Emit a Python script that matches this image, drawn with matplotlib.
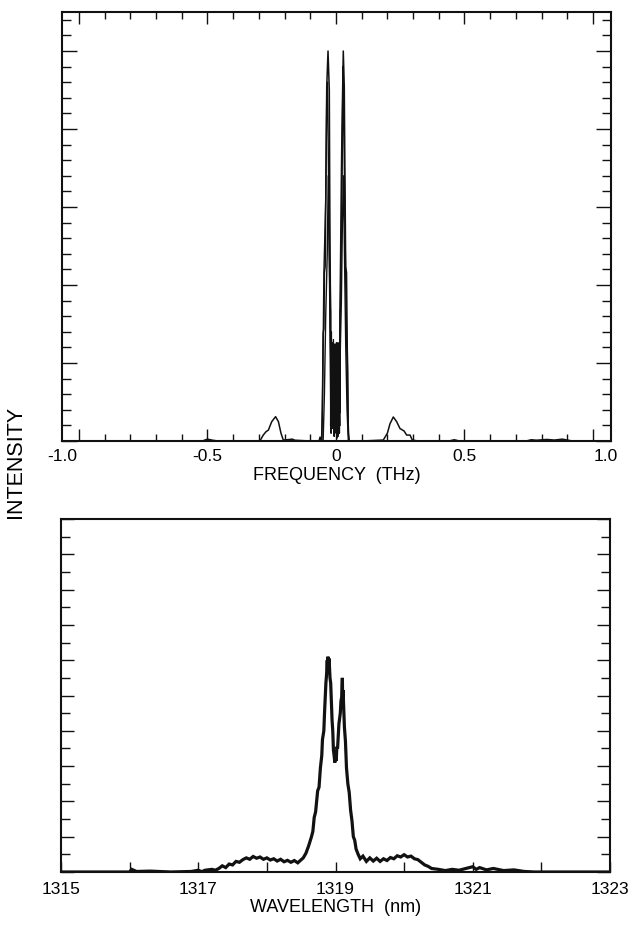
import numpy as np
import matplotlib
matplotlib.use("Agg")
import matplotlib.pyplot as plt
from matplotlib.ticker import MultipleLocator, FixedLocator, FixedFormatter
from matplotlib.transforms import ScaledTranslation

plt.rcParams['font.family'] = ['Liberation Sans', 'DejaVu Sans']

# ---------------- data: top panel (frequency spectrum) ----------------
# main trace over full range (THz, intensity in minor-tick units)
freq_main = [-1.066, -0.60, -0.52, -0.50, -0.48, -0.46, -0.35, -0.296, -0.283, -0.272,
             -0.263, -0.25, -0.235, -0.224, -0.214, -0.205, -0.18, -0.17, -0.16, -0.10,
             -0.066, -0.062, -0.058,
             -0.056, -0.053, -0.050, -0.047, -0.045, -0.042, -0.039, -0.036, -0.031,
             -0.026, -0.024, -0.022, -0.0205, -0.019, -0.017, -0.015, -0.013, -0.011,
             -0.009, -0.007, -0.005, -0.003, -0.001, 0.001, 0.003, 0.005, 0.007, 0.009,
             0.011, 0.013, 0.0156, 0.018, 0.021, 0.0233, 0.0284, 0.0323, 0.035, 0.0377,
             0.041, 0.044, 0.046, 0.048, 0.052,
             0.10, 0.184, 0.20, 0.21, 0.223, 0.236, 0.249, 0.265, 0.275, 0.288, 0.297,
             0.32, 0.44, 0.46, 0.48, 0.60, 0.74, 0.76, 0.78, 0.82, 0.85, 0.88, 0.92, 1.07]
int_main = [0.0, 0.0, 0.0, 0.12, 0.05, 0.0, 0.0, 0.0, 0.38, 0.60,
            0.70, 1.24, 1.56, 1.24, 0.50, 0.06, 0.10, 0.12, 0.05, 0.0,
            0.0, 0.25, 0.0,
            0.1, 2.0, 6.9, 7.2, 10.8, 11.2, 17.2, 22.7, 25.0,
            22.5, 15.0, 10.0, 8.4, 0.5, 6.0, 1.0, 6.2, 2.0,
            6.0, 0.3, 5.8, 2.5, 6.2, 1.0, 6.0, 0.2, 5.9, 2.0,
            6.1, 0.5, 8.4, 12.0, 17.0, 20.0, 25.0, 22.7, 16.7, 11.2,
            10.8, 5.8, 4.4, 0.5, 0.0,
            0.0, 0.06, 0.50, 1.10, 1.54, 1.24, 0.80, 0.64, 0.38, 0.38, 0.06,
            0.0, 0.0, 0.08, 0.0, 0.0, 0.0, 0.08, 0.05, 0.10, 0.06, 0.12, 0.0, 0.0]

# second overlapping trace in the centre
freq_b = [-0.060, -0.055, -0.051, -0.047, -0.040, -0.036, -0.033, -0.029, -0.025, -0.022,
          -0.020, -0.018, -0.016, -0.014, -0.012, -0.010, -0.008, -0.006, -0.004, -0.002,
          0.000, 0.002, 0.004, 0.006, 0.008, 0.010, 0.012, 0.014, 0.017, 0.020, 0.024,
          0.027, 0.030, 0.034, 0.038, 0.042, 0.046, 0.050, 0.055]
int_b = [0.0, 0.0, 4.4, 10.8, 15.4, 22.0, 23.0, 17.0, 10.0, 5.0,
         1.0, 7.0, 3.0, 5.5, 0.8, 4.5, 3.0, 6.0, 0.5, 5.0,
         3.0, 6.3, 1.5, 4.0, 0.3, 5.5, 2.5, 3.0, 8.0, 12.0, 17.0,
         24.0, 21.0, 15.4, 10.0, 6.0, 2.0, 0.0, 0.0]

# third, lower trace in the centre
freq_c = [-0.050, -0.045, -0.040, -0.034, -0.030, -0.026, -0.022, -0.019, -0.016, -0.013,
          -0.010, -0.007, -0.004, -0.001, 0.002, 0.005, 0.008, 0.011, 0.014, 0.017,
          0.021, 0.025, 0.029, 0.033, 0.038, 0.043, 0.048]
int_c = [0.0, 3.0, 8.0, 12.0, 17.0, 12.0, 7.0, 3.5, 5.0, 2.0,
         6.5, 1.0, 4.8, 0.8, 6.0, 2.5, 5.0, 1.0, 4.0, 6.0,
         9.0, 14.0, 17.0, 12.0, 6.0, 2.0, 0.0]

# dense oscillation between the two spikes (the dark block)
freq_d = [-0.0215, -0.0205, -0.0195, -0.0185, -0.0175, -0.0165, -0.0155, -0.0145, -0.0135,
          -0.0125, -0.0115, -0.0105, -0.0095, -0.0085, -0.0075, -0.0065, -0.0055, -0.0045,
          -0.0035, -0.0025, -0.0015, -0.0005, 0.0005, 0.0015, 0.0025, 0.0035, 0.0045,
          0.0055, 0.0065, 0.0075, 0.0085, 0.0095, 0.0105, 0.0115, 0.0125, 0.0135, 0.0145,
          0.0155, 0.0165]
int_d = [8.4, 1.5, 6.2, 2.0, 6.0, 1.2, 6.3, 2.2, 5.9, 1.6,
         6.1, 2.4, 6.2, 1.0, 5.8, 2.0, 6.0, 1.4, 6.2, 2.3,
         5.9, 1.5, 6.1, 2.1, 6.0, 1.2, 6.2, 2.0, 5.8, 1.6,
         6.1, 2.4, 6.0, 1.3, 6.2, 2.0, 5.9, 1.8, 8.4]
freq_e = [-0.0210, -0.0200, -0.0190, -0.0180, -0.0170, -0.0160, -0.0150, -0.0140, -0.0130,
          -0.0120, -0.0110, -0.0100, -0.0090, -0.0080, -0.0070, -0.0060, -0.0050, -0.0040,
          -0.0030, -0.0020, -0.0010, 0.0000, 0.0010, 0.0020, 0.0030, 0.0040, 0.0050,
          0.0060, 0.0070, 0.0080, 0.0090, 0.0100, 0.0110, 0.0120, 0.0130, 0.0140, 0.0150,
          0.0160]
int_e = [1.0, 6.0, 1.8, 6.2, 2.5, 5.9, 1.0, 6.1, 2.0, 6.3,
         1.5, 5.8, 2.2, 6.0, 0.8, 6.2, 2.4, 5.9, 1.2, 6.1,
         2.0, 6.0, 1.6, 6.2, 2.3, 5.8, 1.0, 6.1, 2.0, 6.3,
         1.4, 5.9, 2.2, 6.0, 1.1, 6.2, 2.0, 1.0]

freq_ticklabels = ["-1.0", "-0.5", "0", "0.5", "1.0"]
freq_major = [-1.0, -0.5, 0.0, 0.5, 1.0]

# ---------------- data: bottom panel (wavelength spectrum) ----------------
wavelength = [1315.00, 1315.50, 1316.00, 1316.03, 1316.10, 1316.30, 1316.60, 1316.90, 1317.00, 1317.05,
              1317.10, 1317.20, 1317.25, 1317.30, 1317.35, 1317.40, 1317.45, 1317.50, 1317.55, 1317.60,
              1317.65, 1317.70, 1317.75, 1317.80, 1317.85, 1317.90, 1317.95, 1318.00, 1318.05, 1318.10,
              1318.15, 1318.20, 1318.25, 1318.30, 1318.35, 1318.40, 1318.45, 1318.50, 1318.53, 1318.57,
              1318.61, 1318.65, 1318.67, 1318.69, 1318.71, 1318.74, 1318.76, 1318.78, 1318.80, 1318.81,
              1318.83, 1318.84, 1318.85, 1318.86, 1318.87, 1318.88, 1318.885, 1318.89, 1318.90, 1318.905,
              1318.91, 1318.92, 1318.93, 1318.94, 1318.95, 1318.96, 1318.97, 1318.98, 1318.99, 1319.00,
              1319.01, 1319.02, 1319.03, 1319.05, 1319.07, 1319.08, 1319.09, 1319.10, 1319.105, 1319.11,
              1319.12, 1319.13, 1319.145, 1319.16, 1319.18, 1319.20, 1319.22, 1319.24, 1319.26, 1319.28,
              1319.30, 1319.33, 1319.36, 1319.40, 1319.45, 1319.50, 1319.55, 1319.60, 1319.65, 1319.70,
              1319.75, 1319.80, 1319.85, 1319.90, 1319.95, 1320.00, 1320.05, 1320.10, 1320.15, 1320.20,
              1320.25, 1320.30, 1320.35, 1320.40, 1320.50, 1320.60, 1320.70, 1320.80, 1320.90, 1321.00,
              1321.05, 1321.10, 1321.20, 1321.30, 1321.45, 1321.60, 1321.75, 1321.90, 1322.50, 1323.00]
intensity = [0.0, 0.0, 0.0, 0.15, 0.03, 0.05, 0.0, 0.03, 0.1, 0.02,
             0.1, 0.15, 0.1, 0.2, 0.35, 0.25, 0.45, 0.40, 0.60, 0.55,
             0.70, 0.80, 0.72, 0.88, 0.78, 0.85, 0.72, 0.80, 0.68, 0.75,
             0.62, 0.72, 0.58, 0.66, 0.55, 0.65, 0.52, 0.70, 0.80, 1.07,
             1.5, 2.0, 2.3, 3.1, 3.4, 4.6, 4.8, 5.9, 6.6, 7.5,
             8.0, 9.0, 9.8, 10.7, 11.2, 12.0, 11.4, 12.2, 11.6, 12.1,
             11.8, 11.0, 10.7, 9.6, 8.6, 8.0, 6.9, 6.6, 6.2, 6.5,
             6.3, 7.1, 7.0, 8.4, 9.0, 9.7, 9.9, 11.0, 9.5, 10.3,
             9.3, 8.2, 7.4, 5.9, 5.0, 4.5, 3.5, 2.9, 2.0, 1.8,
             1.3, 1.0, 0.75, 0.9, 0.6, 0.8, 0.62, 0.78, 0.6, 0.75,
             0.65, 0.82, 0.75, 0.92, 0.85, 0.98, 0.85, 0.90, 0.75, 0.70,
             0.55, 0.40, 0.32, 0.20, 0.15, 0.08, 0.15, 0.10, 0.20, 0.30,
             0.15, 0.25, 0.12, 0.20, 0.08, 0.12, 0.03, 0.0, 0.0, 0.0]

wl_ticks = [1316, 1317, 1318, 1319, 1320, 1321, 1322]
wl_labels = ["1315", "1317", "1319", "1321", "1323"]
wl_label_pos = [1315, 1317, 1319, 1321, 1323]

# ---------------- figure ----------------
fig = plt.figure(figsize=(6.32, 9.25), dpi=100)
W, H = 632, 925
ax1 = fig.add_axes([62 / W, 1 - 441 / H, (611 - 62) / W, (441 - 12) / H])
ax2 = fig.add_axes([61 / W, 1 - 872 / H, (610 - 61) / W, (872 - 519) / H])

lc = "#111111"
ax1.plot(freq_main, int_main, color=lc, lw=1.1)
ax1.plot(freq_b, int_b, color=lc, lw=1.0)
ax1.plot(freq_c, int_c, color=lc, lw=1.0)
ax1.plot(freq_d, int_d, color=lc, lw=1.0)
ax1.plot(freq_e, int_e, color=lc, lw=1.0)
ax1.set_xlim(-1.066, 1.07)
ax1.set_ylim(0, 27.5)

ax2.plot(wavelength, intensity, color=lc, lw=2.3, solid_joinstyle='miter')
ax2.set_xlim(1315, 1323)
ax2.set_ylim(0, 20)

for ax in (ax1, ax2):
    for s in ax.spines.values():
        s.set_linewidth(1.5)
        s.set_color(lc)

# top panel ticks
ax1.xaxis.set_major_locator(FixedLocator(freq_major))
ax1.xaxis.set_major_formatter(FixedFormatter(freq_ticklabels))
ax1.xaxis.set_minor_locator(MultipleLocator(0.1))
ax1.yaxis.set_major_locator(MultipleLocator(5))
ax1.yaxis.set_minor_locator(MultipleLocator(1))
ax1.set_yticklabels([])
ax1.tick_params(axis='x', which='major', direction='in', length=8.5, width=1.0,
                top=True, bottom=True, labelsize=12.5, pad=6, color=lc)
ax1.tick_params(axis='x', which='minor', direction='in', length=5, width=1.0,
                top=True, bottom=True, color=lc)
ax1.tick_params(axis='y', which='major', direction='in', length=10.5, width=1.0,
                left=True, right=True, labelleft=False, color=lc)
ax1.tick_params(axis='y', which='minor', direction='in', length=6.5, width=1.0,
                left=True, right=True, color=lc)
labs = ax1.get_xticklabels()
labs[0].set_transform(labs[0].get_transform() + ScaledTranslation(-0.17, 0, fig.dpi_scale_trans))
labs[-1].set_transform(labs[-1].get_transform() + ScaledTranslation(0.13, 0, fig.dpi_scale_trans))

# bottom panel ticks
ax2.xaxis.set_major_locator(FixedLocator(wl_label_pos))
ax2.xaxis.set_major_formatter(FixedFormatter(wl_labels))
ax2.xaxis.set_minor_locator(FixedLocator(wl_ticks))
ax2.yaxis.set_major_locator(MultipleLocator(2))
ax2.yaxis.set_minor_locator(MultipleLocator(1))
ax2.set_yticklabels([])
ax2.tick_params(axis='x', which='major', direction='in', length=7, width=1.0,
                top=False, bottom=True, labelsize=12.5, pad=7, color=lc)
ax2.tick_params(axis='x', which='minor', direction='in', length=7, width=1.0,
                top=False, bottom=True, color=lc)
ax2.tick_params(axis='y', which='major', direction='in', length=9.5, width=1.0,
                left=True, right=True, labelleft=False, color=lc)
ax2.tick_params(axis='y', which='minor', direction='in', length=6.5, width=1.0,
                left=True, right=True, color=lc)

ax1.set_xlabel("FREQUENCY  (THz)", fontsize=13, labelpad=2)
ax2.set_xlabel("WAVELENGTH  (nm)", fontsize=13, labelpad=2)
fig.text(16 / W, 1 - 462 / H, "INTENSITY", rotation=90, fontsize=15.5,
         ha='center', va='center')

fig.savefig("out.png", dpi=100)
